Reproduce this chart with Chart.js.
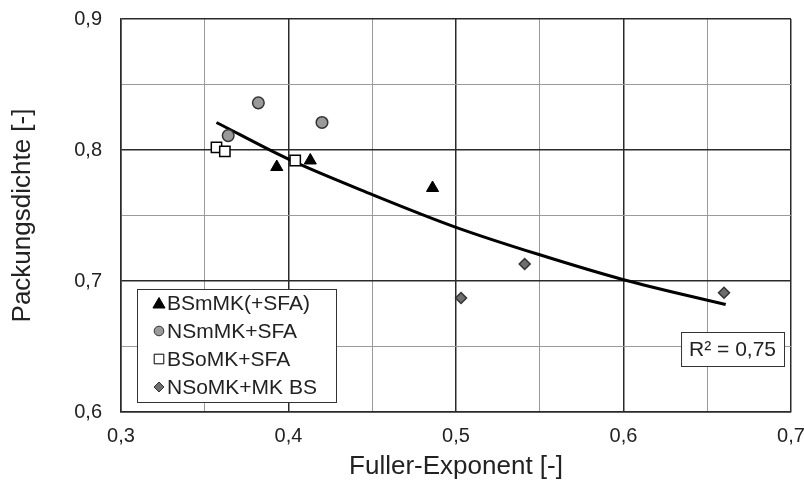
<!DOCTYPE html>
<html>
<head>
<meta charset="utf-8">
<script src="https://cdn.jsdelivr.net/npm/chart.js@4/dist/chart.umd.min.js"></script>
<style>
  html, body { margin: 0; padding: 0; background: #fff; }
  #wrap { width: 804px; height: 488px; }
</style>
</head>
<body>
<div id="wrap"><canvas id="chart" width="804" height="488"></canvas></div>
<script>
// Werte
const seriesNames = ['BSmMK(+SFA)', 'NSmMK+SFA', 'BSoMK+SFA', 'NSoMK+MK BS'];
const bsmX = [0.393, 0.413, 0.486];
const bsmY = [0.787, 0.792, 0.771];
const nsmX = [0.364, 0.382, 0.420];
const nsmY = [0.811, 0.836, 0.821];
const bsoX = [0.357, 0.362, 0.404];
const bsoY = [0.802, 0.799, 0.792];
const nsoX = [0.503, 0.541, 0.660];
const nsoY = [0.687, 0.713, 0.691];
// Trendlinie
const trendX = [0.357, 0.40, 0.45, 0.50, 0.55, 0.60, 0.661];
const trendY = [0.821, 0.793, 0.766, 0.741, 0.720, 0.701, 0.682];
const rSquaredText = 'R² = 0,75';

const xTickValues = [0.3, 0.4, 0.5, 0.6, 0.7];
const xTickLabels = ['0,3', '0,4', '0,5', '0,6', '0,7'];
const yTickValues = [0.6, 0.7, 0.8, 0.9];
const yTickLabels = ['0,6', '0,7', '0,8', '0,9'];

const FONT = '"Liberation Sans", Arial, sans-serif';

function pts(xs, ys) {
  return xs.map((x, i) => ({ x: x, y: ys[i] }));
}

function labelFor(values, labels, v) {
  const i = values.findIndex(t => Math.abs(t - v) < 1e-6);
  return i >= 0 ? labels[i] : '';
}

function isMajor(v) {
  return Math.round(v * 100) % 10 === 0;
}

const markerStyles = [
  { pointStyle: 'triangle', radius: 7, legendRadius: 7, backgroundColor: '#000', borderColor: '#000', borderWidth: 1 },
  { pointStyle: 'circle', radius: 5.8, legendRadius: 4.8, backgroundColor: '#9a9a9a', borderColor: '#333', borderWidth: 1.5 },
  { pointStyle: 'rect', radius: 7.3, legendRadius: 6.8, backgroundColor: '#fff', borderColor: '#000', borderWidth: 1.5 },
  { pointStyle: 'rectRot', radius: 5.5, legendRadius: 5, backgroundColor: '#6e6e6e', borderColor: '#333', borderWidth: 1.5 }
];
const seriesData = [pts(bsmX, bsmY), pts(nsmX, nsmY), pts(bsoX, bsoY), pts(nsoX, nsoY)];

const datasets = seriesNames.map((name, i) => ({
  type: 'scatter',
  label: name,
  data: seriesData[i],
  pointStyle: markerStyles[i].pointStyle,
  pointRadius: markerStyles[i].radius,
  pointHoverRadius: markerStyles[i].radius,
  backgroundColor: markerStyles[i].backgroundColor,
  borderColor: markerStyles[i].borderColor,
  borderWidth: markerStyles[i].borderWidth
}));

datasets.push({
  type: 'line',
  label: 'Trend',
  data: pts(trendX, trendY),
  borderColor: '#000',
  borderWidth: 3,
  pointRadius: 0,
  fill: false,
  cubicInterpolationMode: 'monotone'
});

// Legende und R²-Box selbst zeichnen
const boxesPlugin = {
  id: 'boxes',
  afterDatasetsDraw(chart) {
    const ctx = chart.ctx;
    const ca = chart.chartArea;
    ctx.save();

    // Legende
    const lx = ca.left + 16, ly = ca.top + 270, lw = 199, lh = 113;
    ctx.fillStyle = '#fff';
    ctx.fillRect(lx, ly, lw, lh);
    ctx.strokeStyle = '#333';
    ctx.lineWidth = 1;
    ctx.strokeRect(lx + 0.5, ly + 0.5, lw, lh);
    ctx.font = '21px ' + FONT;
    ctx.textBaseline = 'middle';
    ctx.textAlign = 'left';
    seriesNames.forEach((name, i) => {
      const cy = ly + 14 + i * 28;
      const m = markerStyles[i];
      ctx.fillStyle = m.backgroundColor;
      ctx.strokeStyle = m.borderColor;
      ctx.lineWidth = 1;
      Chart.helpers.drawPoint(ctx, {
        pointStyle: m.pointStyle,
        radius: m.legendRadius,
        rotation: 0,
        borderWidth: 1
      }, lx + 22, cy + (m.pointStyle === 'triangle' ? 1.5 : 0));
      ctx.fillStyle = '#222';
      ctx.fillText(name, lx + 30, cy + 1);
    });

    // R²-Box
    ctx.font = '21px ' + FONT;
    const tw = ctx.measureText(rSquaredText).width;
    const bw = tw + 16, bh = 34;
    const bx = ca.right - 7 - bw, by = ca.top + 313;
    ctx.fillStyle = '#fff';
    ctx.fillRect(bx, by, bw, bh);
    ctx.strokeStyle = '#333';
    ctx.strokeRect(bx + 0.5, by + 0.5, bw, bh);
    ctx.fillStyle = '#222';
    ctx.fillText(rSquaredText, bx + 8, by + bh / 2 + 1);

    ctx.restore();
  }
};

new Chart(document.getElementById('chart'), {
  data: { datasets: datasets },
  options: {
    responsive: false,
    animation: false,
    layout: { padding: { top: 19, right: 13, left: 0, bottom: 0 } },
    plugins: {
      legend: { display: false },
      tooltip: { enabled: false }
    },
    scales: {
      x: {
        type: 'linear',
        min: 0.3, max: 0.7,
        afterFit(scale) {
          scale.height = 76;
          scale.paddingLeft = 0;
          scale.paddingRight = 0;
        },
        ticks: {
          stepSize: 0.05,
          autoSkip: false,
          padding: 12,
          color: '#222',
          font: { family: FONT, size: 20 },
          callback: v => labelFor(xTickValues, xTickLabels, v)
        },
        grid: {
          drawTicks: false,
          color: c => isMajor(c.tick.value) ? '#2a2a2a' : '#9a9a9a',
          lineWidth: c => isMajor(c.tick.value) ? 1.5 : 1
        },
        border: { color: '#2a2a2a', width: 1.5 },
        title: {
          display: true,
          text: 'Fuller-Exponent [-]',
          color: '#222',
          font: { family: FONT, size: 26 },
          padding: { top: 0, bottom: 6 }
        }
      },
      y: {
        type: 'linear',
        min: 0.6, max: 0.9,
        afterFit(scale) {
          scale.width = 121;
          scale.paddingTop = 0;
          scale.paddingBottom = 0;
        },
        ticks: {
          stepSize: 0.05,
          autoSkip: false,
          padding: 19,
          color: '#222',
          font: { family: FONT, size: 20 },
          callback: v => labelFor(yTickValues, yTickLabels, v)
        },
        grid: {
          drawTicks: false,
          color: c => isMajor(c.tick.value) ? '#2a2a2a' : '#9a9a9a',
          lineWidth: c => isMajor(c.tick.value) ? 1.5 : 1
        },
        border: { color: '#2a2a2a', width: 1.5 },
        title: {
          display: true,
          text: 'Packungsdichte [-]',
          color: '#222',
          font: { family: FONT, size: 26 },
          padding: { top: 7, bottom: 0 }
        }
      }
    }
  },
  plugins: [boxesPlugin]
});
</script>
</body>
</html>
